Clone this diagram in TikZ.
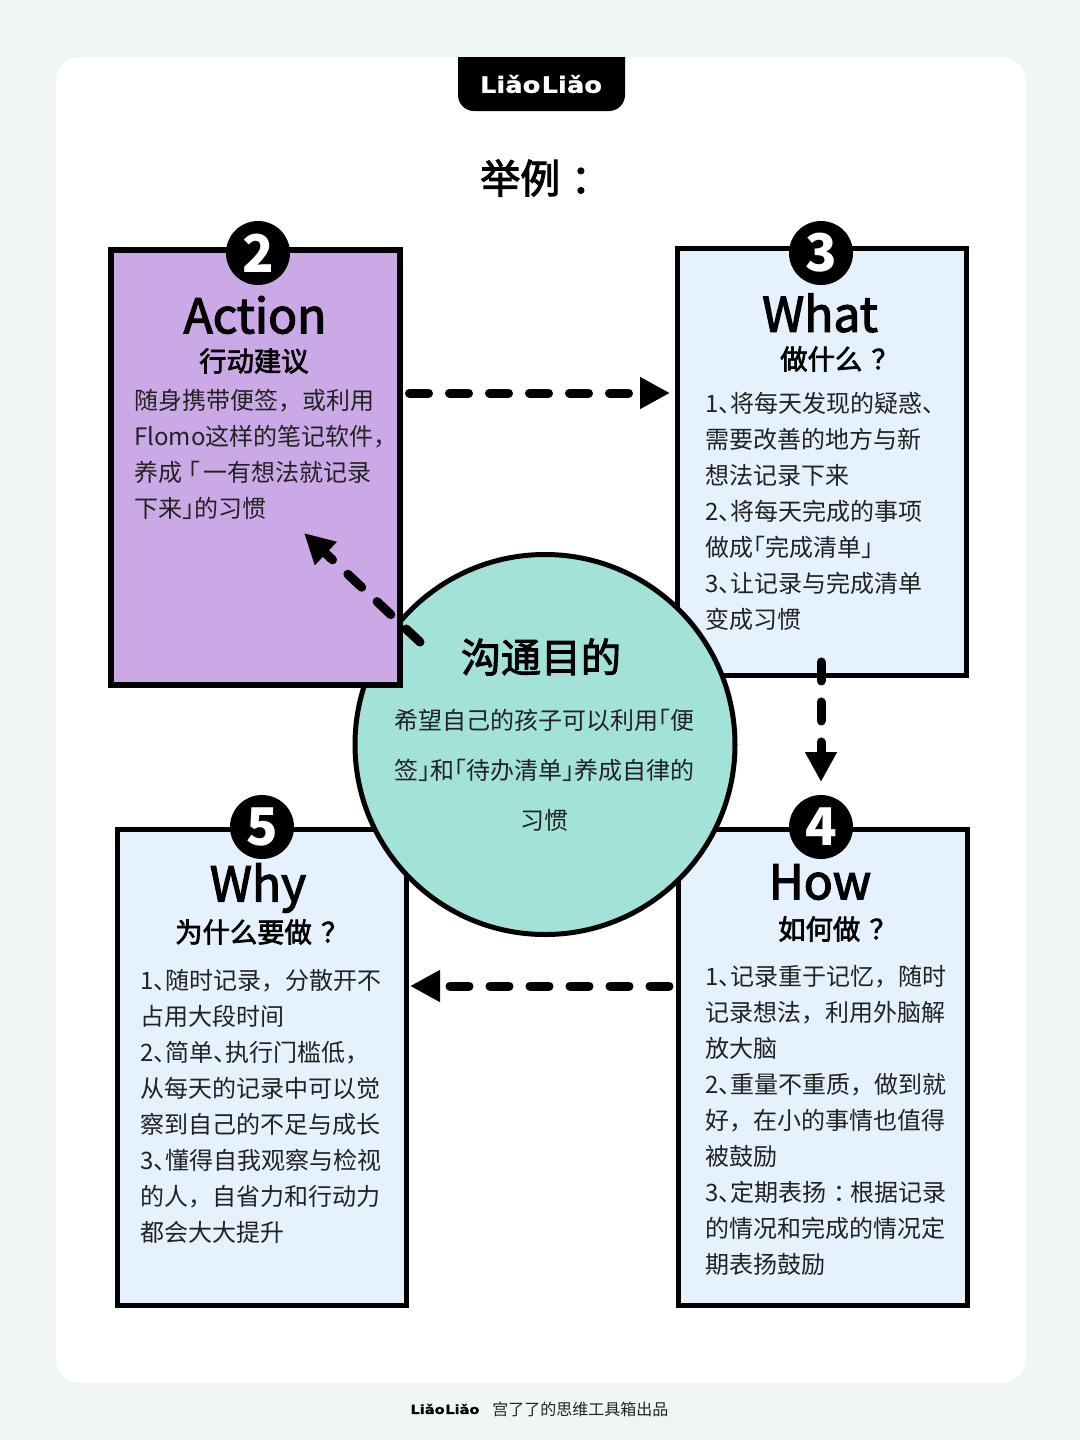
\documentclass[tikz,border=0pt]{standalone}
\usepackage{fontspec}
\usepackage{xcolor}
\setmainfont{Noto Sans CJK SC}
\newfontfamily\logofont[FakeStretch=1.15, FakeBold=1]{DejaVu Sans}
\newfontfamily\heavyfont[FakeBold=2.5]{Noto Sans CJK SC}
\usetikzlibrary{shapes.geometric, arrows.meta}
\definecolor{pagebg}{HTML}{EFF6F5}
\definecolor{paleblue}{HTML}{E5F1FC}
\definecolor{lilac}{HTML}{CBA9E6}
\definecolor{mint}{HTML}{A2E2D8}
\definecolor{ink}{HTML}{222222}
\newcommand{\dn}{、\kern-9pt}
\newcommand{\lb}{\kern-9pt「}
\newcommand{\rb}{」\kern-9pt}
\newcommand{\cln}{\kern5pt：\kern-5pt}
\tikzstyle{panel} = [rectangle, draw=black, line width=3.75pt, minimum width=216.75pt, inner sep=0pt, outer sep=0pt, fill=paleblue]
\tikzstyle{badge} = [circle, fill=black, text=white, minimum size=48pt, inner sep=0pt, outer sep=0pt, font=\fontsize{39pt}{39pt}\bfseries\selectfont]
\tikzstyle{headline} = [inner sep=0pt, font=\heavyfont\fontsize{36pt}{36pt}\selectfont]
\tikzstyle{subhead} = [inner sep=0pt, anchor=west, font=\heavyfont\fontsize{20.5pt}{24pt}\selectfont]
\tikzstyle{body} = [inner sep=0pt, anchor=north west, align=left, text=ink, font=\fontsize{18pt}{27pt}\selectfont]
\tikzstyle{arrow} = [black, line width=6.75pt, line cap=round, dash pattern=on 14.25pt off 15.75pt, -{Triangle[length=22.5pt,width=22.5pt]}]
\begin{document}
\begin{tikzpicture}[x=0.75pt, y=-0.75pt]
	\useasboundingbox (0,0) rectangle (1080,1440);
	\fill [pagebg] (0,0) rectangle (1080,1440);
	\fill [white, rounded corners=18pt] (56,57) rectangle (1026,1383);
	
	\fill [black, rounded corners=12pt] (458,40) -- (458,111) -- (625,111) -- (625,40) -- cycle;
	\fill [pagebg] (440,30) rectangle (640,57);
	\node (logo) [inner sep=0pt, text=white, font=\logofont\fontsize{16.8pt}{20pt}\bfseries\selectfont] at (541,84) {Liǎo\kern1pt Liǎo};
	\node (title) [inner sep=0pt, anchor=west, font=\heavyfont\fontsize{30pt}{32pt}\selectfont] at (480,178) {举例\kern8pt：};
	
	\node (what) [panel, minimum height=320.6pt] at (822,462.25) {};
	\node (how) [panel, minimum height=357pt] at (823,1067.5) {};
	\node (why) [panel, minimum height=357pt] at (262,1067.5) {};
	\node (goal) [circle, draw=black, line width=3.75pt, fill=mint, minimum size=285pt, inner sep=0pt, outer sep=0pt] at (545,744.5) {};
	\node (action) [panel, fill=lilac, line width=4.5pt, minimum width=216.75pt, minimum height=326.25pt] at (255.5,467.5) {};
	
	\node (b2) [badge] at (258,253) {2};
	\node (b3) [badge] at (821,253) {3};
	\node (b4) [badge] at (821,827) {4};
	\node (b5) [badge] at (262,827) {5};
	
	\node (t2) [headline] at (255,315) {Action};
	\node (s2) [subhead] at (199,361) {行动建议};
	\node (p2) [body] at (134,389) {随身携带便签，或利用\\Flomo这样的笔记软件，\\养成\kern-4.5pt「\kern2.5pt 一有想法就记录\\下来\rb 的习惯};
	
	\node (t3) [headline] at (820,313) {What};
	\node (s3) [subhead] at (780,359) {做什么\kern7pt？};
	\node (p3) [body] at (705,392) {1\dn 将每天发现的疑惑、\\需要改善的地方与新\\想法记录下来\\2\dn 将每天完成的事项\\做成\lb 完成清单\rb\\3\dn 让记录与完成清单\\变成习惯};
	
	\node (t4) [headline] at (820,882) {How};
	\node (s4) [subhead] at (778,929) {如何做\kern7pt？};
	\node (p4) [body] at (705,965) {1\dn 记录重于记忆，随时\\记录想法，利用外脑解\\放大脑\\2\dn 重量不重质，做到就\\好，在小的事情也值得\\被鼓励\\3\dn 定期表扬\cln 根据记录\\的情况和完成的情况定\\期表扬鼓励};
	
	\node (t5) [headline] at (258,888) {Why};
	\node (s5) [subhead] at (175,932) {为什么要做\kern7pt？};
	\node (p5) [body] at (140,969) {1\dn 随时记录，分散开不\\占用大段时间\\2\dn 简单\dn 执行门槛低，\\从每天的记录中可以觉\\察到自己的不足与成长\\3\dn 懂得自我观察与检视\\的人，自省力和行动力\\都会大大提升};
	
	\node (t1) [inner sep=0pt, font=\heavyfont\fontsize{30pt}{32pt}\selectfont] at (541,657) {沟通目的};
	\node (p1) [inner sep=0pt, align=center, text=ink, font=\fontsize{18pt}{37.5pt}\selectfont] at (544,770) {希望自己的孩子可以利用\lb 便\\签\rb 和\lb 待办清单\rb 养成自律的\\习惯};
	
	\draw [arrow] ([shift={(9.5,-74.5)}]action.east) -- ([shift={(-7.5,-69.25)}]what.west);
	\draw [arrow] ([shift={(-1,-14)}]what.south) -- ([yshift=9.75pt]b4.north);
	\draw [arrow] ([shift={(-9.5,-81.5)}]how.west) -- ([shift={(3.5,-81.5)}]why.east);
	\draw [arrow] ([shift={(-125,-102.5)}]goal.center) -- ([shift={(48.5,65.5)}]action.center);
	
	\node (brand) [inner sep=0pt, font=\logofont\fontsize{9.5pt}{11pt}\bfseries\selectfont] at (445,1409) {Liǎo\kern0.5pt Liǎo};
	\node (credit) [inner sep=0pt, anchor=west, text=ink, font=\fontsize{12pt}{14pt}\selectfont] at (492,1409) {宫了了的思维工具箱出品};
\end{tikzpicture}
\end{document}
